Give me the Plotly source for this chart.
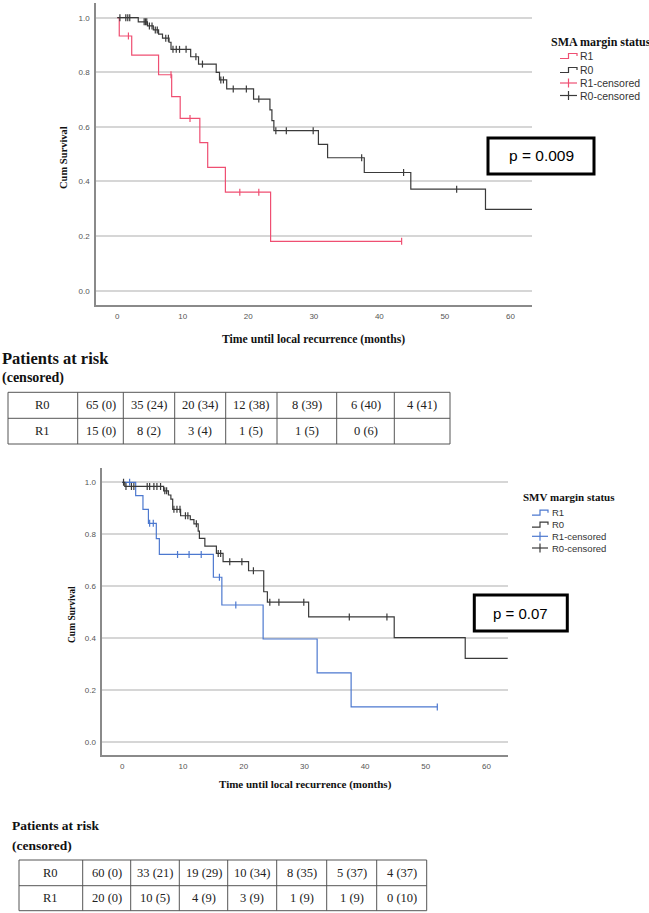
import numpy as np
import plotly.graph_objects as go

W, H = 649, 913

# ---------------- DATA ----------------
# SMA margin status (top chart)
sma_r0_t = [0, 3.2, 4.6, 5.5, 6.3, 6.9, 7.9, 8.2, 11.2, 12.4, 15.1, 15.6, 16.7, 20.8, 23.3, 23.6, 23.9, 30.7, 32.1, 37.7, 44.8, 56.2, 64]
sma_r0_s = [1.0, 0.985, 0.970, 0.955, 0.940, 0.925, 0.910, 0.884, 0.857, 0.830, 0.800, 0.772, 0.739, 0.702, 0.662, 0.623, 0.586, 0.536, 0.487, 0.433, 0.372, 0.298, 0.298]
sma_r0_cens = [0.4, 1.3, 1.6, 1.9, 4.1, 4.3, 4.5, 4.9, 5.3, 5.8, 6.1, 7.4, 7.8, 8.5, 9.0, 9.5, 10.5, 12.0, 13.0, 15.8, 16.2, 17.7, 19.7, 21.6, 24.2, 25.8, 29.9, 37.3, 43.7, 51.8]

sma_r1_t = [0, 0.3, 2.2, 6.3, 8.3, 9.6, 12.6, 13.8, 16.5, 23.4, 43.4]
sma_r1_s = [1.0, 0.933, 0.863, 0.791, 0.711, 0.631, 0.542, 0.452, 0.361, 0.181, 0.181]
sma_r1_cens = [1.7, 8.2, 11.1, 18.7, 21.6, 43.4]

# SMV margin status (bottom chart)
smv_r0_t = [0, 0.4, 6.8, 7.6, 8.0, 8.3, 9.6, 11.2, 11.8, 12.5, 12.7, 13.6, 15.5, 16.6, 20.8, 23.3, 23.9, 30.7, 44.8, 56.5, 64]
smv_r0_s = [1.0, 0.984, 0.967, 0.951, 0.935, 0.896, 0.871, 0.856, 0.840, 0.812, 0.784, 0.754, 0.726, 0.694, 0.659, 0.578, 0.538, 0.481, 0.401, 0.321, 0.321]
smv_r0_cens = [0.2, 0.6, 1.5, 1.9, 4.1, 4.5, 5.2, 5.7, 6.3, 7.0, 7.3, 8.5, 9.0, 9.5, 10.4, 10.8, 12.2, 15.8, 16.2, 17.7, 19.7, 21.6, 24.3, 25.8, 29.9, 37.4, 43.6]

smv_r1_t = [0, 2.2, 3.4, 4.3, 5.6, 6.1, 15.0, 16.4, 23.2, 32.1, 37.7, 51.9]
smv_r1_s = [1.0, 0.949, 0.896, 0.842, 0.783, 0.722, 0.634, 0.527, 0.396, 0.265, 0.134, 0.134]
smv_r1_cens = [1.2, 4.5, 5.1, 9.1, 11.0, 13.0, 16.0, 18.7, 51.9]

x_ticks = [0, 10, 20, 30, 40, 50, 60]
y_ticks = [0.0, 0.2, 0.4, 0.6, 0.8, 1.0]

legend_labels = ["R1", "R0", "R1-censored", "R0-censored"]

risk_rows = ["R0", "R1"]
sma_r0_risk = ["65 (0)", "35 (24)", "20 (34)", "12 (38)", "8 (39)", "6 (40)", "4 (41)"]
sma_r1_risk = ["15 (0)", "8 (2)", "3 (4)", "1 (5)", "1 (5)", "0 (6)", ""]
smv_r0_risk = ["60 (0)", "33 (21)", "19 (29)", "10 (34)", "8 (35)", "5 (37)", "4 (37)"]
smv_r1_risk = ["20 (0)", "10 (5)", "4 (9)", "3 (9)", "1 (9)", "1 (9)", "0 (10)"]

sma_p = "p = 0.009"
smv_p = "p = 0.07"

# ---------------- STYLE ----------------
RED = "#ef4f72"
BLUE = "#4c78cf"
BLACK = "#3a3a3a"
SERIF = "Liberation Serif, Times New Roman, serif"
SANS = "Liberation Sans, Arial, sans-serif"


def px(x):
    return x / W


def py(y):
    return 1 - y / H


def surv_at(times, surv, tc):
    idx = np.searchsorted(np.array(times), np.array(tc), side="right") - 1
    return list(np.array(surv)[idx])


fig = go.Figure()

panels = [
    dict(xa="x", ya="y", r1=(sma_r1_t, sma_r1_s, sma_r1_cens, RED), r0=(sma_r0_t, sma_r0_s, sma_r0_cens, BLACK)),
    dict(xa="x2", ya="y2", r1=(smv_r1_t, smv_r1_s, smv_r1_cens, BLUE), r0=(smv_r0_t, smv_r0_s, smv_r0_cens, BLACK)),
]
for p in panels:
    for key in ["r1", "r0"]:
        t, s, c, col = p[key]
        fig.add_trace(go.Scatter(x=t, y=s, mode="lines", line=dict(shape="hv", color=col, width=1.2),
                                 xaxis=p["xa"], yaxis=p["ya"], showlegend=False, hoverinfo="skip"))
    for key in ["r1", "r0"]:
        t, s, c, col = p[key]
        fig.add_trace(go.Scatter(x=c, y=surv_at(t, s, c), mode="markers",
                                 marker=dict(symbol="line-ns", size=5, line=dict(color=col, width=1.2)),
                                 xaxis=p["xa"], yaxis=p["ya"], showlegend=False, hoverinfo="skip"))

axis_common = dict(showline=True, linecolor="#8a8a8a", linewidth=1.5, zeroline=False,
                   ticks="outside", ticklen=3, tickcolor="rgba(0,0,0,0)",
                   tickfont=dict(family=SANS, size=8, color="#555555"))

fig.update_layout(
    width=W, height=H, margin=dict(l=0, r=0, t=0, b=0),
    paper_bgcolor="white", plot_bgcolor="white", showlegend=False,
    xaxis=dict(domain=[px(96), px(532)], range=[-3.25, 63.3], anchor="y", showgrid=False,
               tickvals=x_ticks, **axis_common),
    yaxis=dict(domain=[py(305), py(3)], range=[-0.0524, 1.0538], anchor="x", showgrid=True,
               gridcolor="#d6d6d6", gridwidth=1.5, tickvals=y_ticks, tickformat=".1f", **axis_common),
    xaxis2=dict(domain=[px(102.3), px(507.7)], range=[-3.3, 63.5], anchor="y2", showgrid=False,
                tickvals=x_ticks, **axis_common),
    yaxis2=dict(domain=[py(755), py(468.3)], range=[-0.0513, 1.054], anchor="x2", showgrid=True,
                gridcolor="#d6d6d6", gridwidth=1.5, tickvals=y_ticks, tickformat=".1f", **axis_common),
)

ann = []
shapes = []


def text(x, y, s, size, family=SERIF, bold=False, color="#111111", xanchor="center", yanchor="middle", angle=0):
    ann.append(dict(x=px(x), y=py(y), xref="paper", yref="paper", text=("<b>%s</b>" % s) if bold else s,
                    showarrow=False, xanchor=xanchor, yanchor=yanchor, textangle=angle,
                    font=dict(family=family, size=size, color=color)))


# axis titles
text(313, 339, "Time until local recurrence (months)", 11.7, bold=True)
text(63, 158, "Cum Survival", 10.5, bold=True, angle=-90)
text(305, 784, "Time until local recurrence (months)", 11, bold=True)
text(72, 615, "Cum Survival", 9.5, bold=True, angle=-90)


# legends
def legend(x0, x1, xt, ytitle, ys, title, colors, tsize, isize):
    text(x0 - 11, ytitle, title, tsize, bold=True, xanchor="left")
    for i, (lab, col) in enumerate(zip(legend_labels, colors)):
        yy = ys[i]
        xm = (x0 + x1) / 2
        if i < 2:
            path = "M %f,%f L %f,%f L %f,%f L %f,%f L %f,%f" % (
                px(x0), py(yy + 2.5), px(xm), py(yy + 2.5), px(xm), py(yy - 2.5), px(x1), py(yy - 2.5), px(x1), py(yy))
            shapes.append(dict(type="path", path=path, xref="paper", yref="paper", line=dict(color=col, width=1.2)))
        else:
            shapes.append(dict(type="line", x0=px(x0), x1=px(x1), y0=py(yy), y1=py(yy), xref="paper", yref="paper",
                               line=dict(color=col, width=1.2)))
            shapes.append(dict(type="line", x0=px(xm), x1=px(xm), y0=py(yy - 4.5), y1=py(yy + 4.5), xref="paper",
                               yref="paper", line=dict(color=col, width=1.2)))
        text(xt, yy, lab, isize, family=SANS, color="#333333", xanchor="left")


legend(560, 577, 578, 42, [56, 70, 83, 95.5], "SMA margin status", [RED, BLACK, RED, BLACK], 12, 10.5)
legend(532, 548, 549.5, 496.7, [512.7, 524.7, 536.3, 548], "SMV margin status", [BLUE, BLACK, BLUE, BLACK], 11, 9.5)


# p-value boxes
def pbox(x0, x1, y0, y1, s, size):
    shapes.append(dict(type="rect", x0=px(x0), x1=px(x1), y0=py(y1), y1=py(y0), xref="paper", yref="paper",
                       line=dict(color="black", width=3), fillcolor="white"))
    text((x0 + x1) / 2, (y0 + y1) / 2, s, size, family=SANS, color="black")


pbox(488, 594, 138, 174, sma_p, 15.5)
pbox(474.3, 567.3, 595, 631, smv_p, 15)

# patients at risk headers
text(0, 358, "Patients at risk", 16.5, bold=True, xanchor="left")
text(0, 378, "(censored)", 14, bold=True, xanchor="left")
text(10, 825, "Patients at risk", 13.5, bold=True, xanchor="left")
text(10, 845, "(censored)", 13.5, bold=True, xanchor="left")


# tables
def table(xe, ye, rows, size):
    for x in xe:
        shapes.append(dict(type="line", x0=px(x), x1=px(x), y0=py(ye[0]), y1=py(ye[-1]), xref="paper", yref="paper",
                           line=dict(color="#555555", width=1)))
    for y in ye:
        shapes.append(dict(type="line", x0=px(xe[0]), x1=px(xe[-1]), y0=py(y), y1=py(y), xref="paper", yref="paper",
                           line=dict(color="#555555", width=1)))
    for r, (lab, vals) in enumerate(rows):
        yc = (ye[r] + ye[r + 1]) / 2
        cells = [lab] + vals
        for c, v in enumerate(cells):
            if v:
                text((xe[c] + xe[c + 1]) / 2, yc, v, size, color="#222222")


table([8, 77.7, 123.3, 174.7, 225.7, 277, 336.7, 394.3, 450], [392.3, 418.3, 444],
      [(risk_rows[0], sma_r0_risk), (risk_rows[1], sma_r1_risk)], 12.5)
table([19, 82.7, 130.7, 179.3, 227.7, 276.7, 326.7, 376.7, 426.7], [860, 885.7, 910.7],
      [(risk_rows[0], smv_r0_risk), (risk_rows[1], smv_r1_risk)], 12.5)

fig.update_layout(annotations=ann, shapes=shapes)
fig.write_html("out.html")
